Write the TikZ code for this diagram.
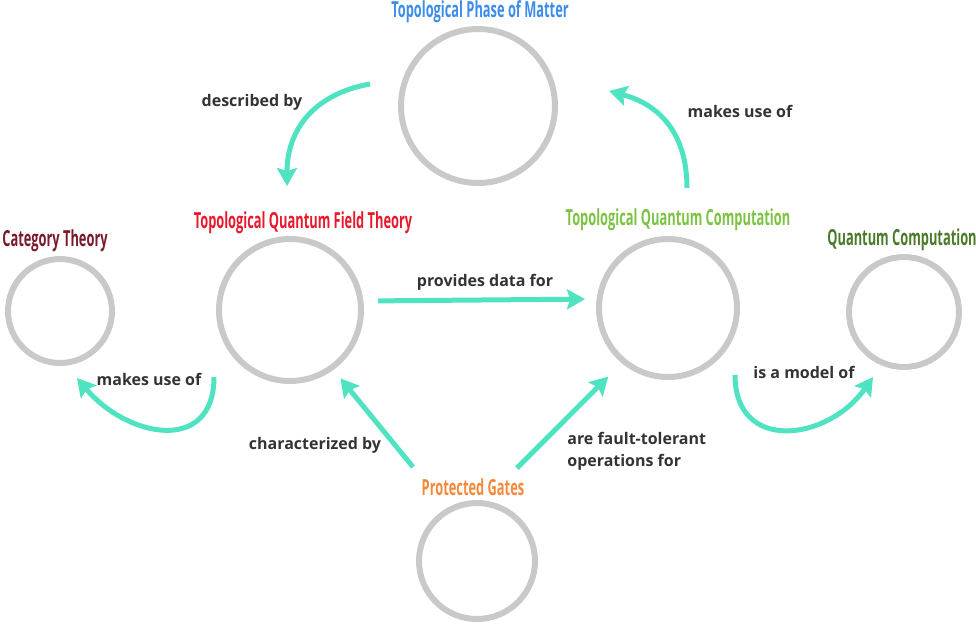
\documentclass[tikz,border=0pt]{standalone}
\usepackage{fontspec}
\setmainfont{Open Sans}
\newfontfamily\titlefont[FakeStretch=0.58]{Open Sans}
\usetikzlibrary{arrows.meta}
\definecolor{ringgray}{HTML}{C9C9C9}
\definecolor{flowteal}{HTML}{50E3C2}
\definecolor{labelgray}{HTML}{333333}
\definecolor{phaseblue}{HTML}{3C8DEB}
\definecolor{tqftred}{HTML}{E8192C}
\definecolor{tqcgreen}{HTML}{7DC243}
\definecolor{catred}{HTML}{7A1B2B}
\definecolor{qcgreen}{HTML}{4A7A29}
\definecolor{gateorange}{HTML}{F6883B}
\begin{document}
\begin{tikzpicture}[x=0.02cm,y=-0.02cm,
  ring/.style={circle,draw=ringgray,line width=0.12cm,inner sep=0pt},
  title/.style={font=\titlefont\bfseries\fontsize{12.6}{14}\selectfont,inner sep=0pt},
  lbl/.style={font=\bfseries\fontsize{9.1}{12.5}\selectfont,text=labelgray,inner sep=0pt},
  flow/.style={draw=flowteal,line width=0.1cm,-{Stealth[length=0.36cm,width=0.4cm,inset=0.06cm]}}]
\useasboundingbox (0,0) rectangle (976,630);
% circles
\foreach \n/\x/\y/\d in {phase/478/106/3.08,tqft/290/310/2.84,tqc/668/308/2.76,cat/60/311/2.08,qc/904/312/2.2,gates/477/561/2.32}
  \node[ring,minimum size=\d cm] (\n) at (\x,\y) {};
% titles
\node[title,text=phaseblue] (phasetitle) at (480,12) {Topological Phase of Matter};
\node[title,text=tqftred] (tqfttitle) at (303,223) {Topological Quantum Field Theory};
\node[title,text=tqcgreen] (tqctitle) at (678,220) {Topological Quantum Computation};
\node[title,text=catred] (cattitle) at (55,241) {Category Theory};
\node[title,text=qcgreen] (qctitle) at (902,240) {Quantum Computation};
\node[title,text=gateorange] (gatestitle) at (473,487) {Protected Gates};
% connector ends
\coordinate (d1) at (370,84);
\coordinate (d2) at (287,186);
\coordinate (m1) at (687,188);
\coordinate (m2) at (609,91);
\coordinate (l1) at (214,377);
\coordinate (l2) at (77,378);
\coordinate (i1) at (735,375);
\coordinate (i2) at (873,377);
\coordinate (ch1) at (413,467);
\coordinate (ft1) at (517,468);
% connectors
\draw[flow] (d1) to[out=190,in=90,looseness=1.1] (d2);
\draw[flow] (m1) to[out=90,in=-15,looseness=1.1] (m2);
\draw[flow,shorten <=0.28cm,shorten >=0.22cm] ([yshift=0.18cm]tqft.east) -- ([yshift=0.18cm]tqc.west);
\draw[flow,shorten >=0.22cm] (ch1) -- (tqft.-54);
\draw[flow,shorten >=0.38cm] (ft1) -- (tqc.-130);
\draw[flow] (l1) to[out=-90,in=-50,looseness=1.45] (l2);
\draw[flow] (i1) to[out=-90,in=-125,looseness=1.45] (i2);
% labels
\node[lbl] (describedby) at (252,102) {described by};
\node[lbl] (makesuse) at (740,111) {makes use of};
\node[lbl] (providesdata) at (485,282) {provides data for};
\node[lbl] (characterized) at (315,445) {characterized by};
\node[lbl,anchor=west,align=left] (faulttolerant) at (567,451) {are fault-tolerant\\operations for};
\node[lbl] (makesuseleft) at (149,379) {makes use of};
\node[lbl] (modelof) at (804,372) {is a model of};
\end{tikzpicture}
\end{document}
